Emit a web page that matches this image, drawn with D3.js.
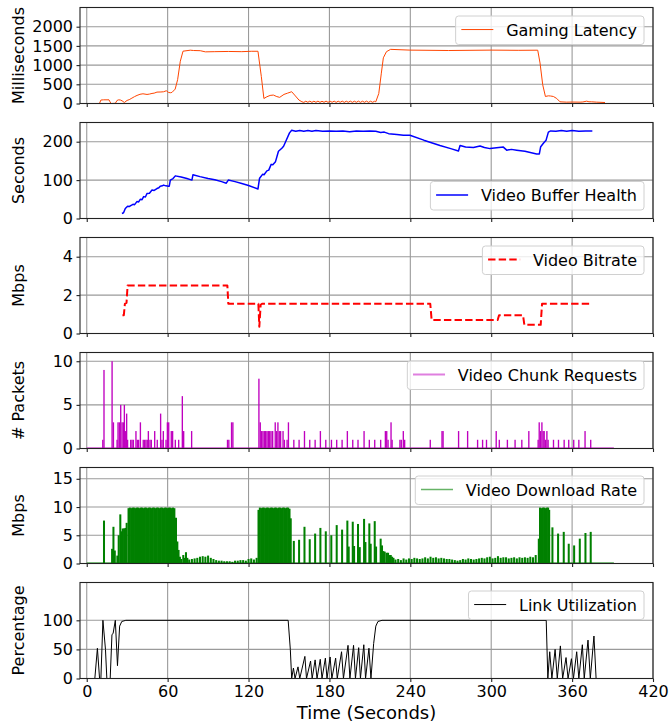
<!DOCTYPE html>
<html>
<head>
<meta charset="utf-8">
<script src="https://cdn.jsdelivr.net/npm/d3@7"></script>
<style>
  body { margin: 0; background: #fff; }
  svg { display: block; font-family: "DejaVu Sans", sans-serif; }
</style>
</head>
<body>
<svg id="chart"></svg>
<script>
// ---- data ----
const xTicks = [0, 60, 120, 180, 240, 300, 360, 420];

const latencyTicks = [0, 500, 1000, 1500, 2000];
const latencyTime = [8.8, 9.5, 10.5, 12.5, 16.5, 17, 18, 21.2, 22.5, 23.7, 25, 26.2, 27.9, 29.9, 31.5, 33.5, 35.5, 37.3, 39.5, 41.7,
  44.7, 46.5, 48.4, 50, 52.1, 55, 57, 59, 60.7, 62, 63.2, 65.6, 67.4, 69.4, 71.4, 76.8, 79.3, 84.2, 88, 95,
  105, 115, 122, 127, 129.5, 131.4, 133.6, 136, 138.4, 141, 143.1, 146.3, 149, 152, 154.2, 157.4, 159.6,
  161, 162.5, 164, 165.5, 167, 168.5, 170, 171.5, 173, 174.5, 176, 177.5, 179, 180.5, 182, 183.5, 185, 186.5,
  188, 189.5, 191, 192.5, 194, 195.5, 197, 198.5, 200, 201.5, 203, 204.5, 206, 207.5, 209, 210.5, 212, 213.5,
  214.4, 216.6, 218.5, 220, 222.3, 225.4, 239.7, 268.2, 299.9, 320, 334.5, 336.2, 338.2, 340.2, 342.4, 344,
  346.1, 348.6, 351, 356, 360, 365.9, 368, 370.8, 372.5, 374.5, 378.2, 384.4];
const latencyMs = [0, 5, 90, 96, 96, 60, 0, 5, 80, 96, 90, 70, 26, 80, 100, 140, 180, 210, 240, 253,
  236, 245, 262, 270, 297, 300, 306, 332, 288, 280, 288, 375, 620, 1100, 1362, 1388, 1380, 1375, 1345, 1350,
  1355, 1350, 1360, 1360, 700, 130, 175, 210, 220, 180, 160, 237, 270, 307, 220, 90, 45,
  30, 60, 32, 62, 30, 60, 32, 62, 30, 58, 32, 62, 30, 60, 32, 62, 30, 60,
  32, 62, 30, 60, 32, 62, 30, 60, 32, 62, 30, 60, 32, 62, 30, 60, 32, 58,
  45, 260, 790, 1190, 1350, 1410, 1390, 1380, 1390, 1385, 1388, 1056, 489, 183, 200, 195,
  183, 131, 44, 35, 38, 35, 40, 61, 45, 44, 35, 26];

const bufferTicks = [0, 100, 200];
const bufferTime = [26.1, 27.3, 28.6, 30.3, 31.5, 32.3, 34.3, 35.5, 37.2, 38.5, 39.7, 41, 42.2, 43.5, 44.7, 46.5, 48.4, 50, 52.1, 53.5,
  54.5, 56, 57, 58.7, 60.7, 61.2, 62, 63, 64, 65.7, 70, 74.3, 78, 78.8, 84, 90, 95, 100, 103.5, 105,
  110, 115, 120, 127, 128.2, 130.4, 131.5, 133.6, 135, 136.8, 138, 140, 142.2, 144.7, 146, 147.9, 150.4, 152,
  155, 158, 161, 164, 167, 170, 175, 180, 185, 190, 195, 200, 205, 210, 214.4, 218, 220.7, 223.9, 230, 234.9,
  239.7, 250, 262, 270, 275.7, 276.9, 281, 286.8, 291.7, 295, 299.1, 304, 309, 311.5, 315, 318.9, 325, 333.7,
  335.7, 336.7, 338.7, 340.7, 342.4, 344.1, 348, 352, 356, 360, 365, 370, 375];
const bufferSec = [13, 15, 26, 32, 31, 33, 37, 36, 44, 43, 50, 49, 57, 56, 65, 66, 74, 73, 78, 80,
  84, 85, 87, 85, 84, 84, 100, 102, 104, 111, 108, 104, 100, 114, 109, 104, 101, 96, 92, 100,
  96, 91, 86, 77, 105, 115, 114, 124, 126, 141, 140, 148, 175, 183, 188, 203, 223, 230,
  227, 229, 227, 229, 227, 229, 227, 228, 227, 228, 226, 228, 227, 228, 227, 224, 225, 221, 219, 217,
  217, 204, 190, 182, 176, 190, 186, 185, 189, 185, 182, 184, 186, 178, 180, 178, 175, 168,
  168, 187, 196, 204, 225, 228, 227, 229, 227, 229, 227, 228, 228];

const bitrateTicks = [0, 2, 4];
const bitrateTime = [26.5, 27.5, 28.3, 29.5, 30.3, 104.3, 105, 127.3, 128, 129, 130, 254.8, 255.8, 304.8, 305.8, 323.6, 324.6, 336.7, 337.7, 375];
const bitrateMbps = [0.95, 0.95, 1.55, 1.6, 2.5, 2.5, 1.55, 1.55, 0.35, 1.5, 1.55, 1.55, 0.7, 0.7, 0.95, 0.95, 0.45, 0.45, 1.55, 1.55];

const chunkTicks = [0, 5, 10];
const chunkTime = [11.9, 12.8, 18.8, 19.8, 22.5, 23.2, 24.2, 25.2, 26.2, 27.2, 27.9, 28.6, 29.6, 30.3, 32.6, 33.6, 34.6, 36.5, 37.5, 38.5,
  39.8, 41.9, 42.9, 43.9, 44.9, 45.7, 46.9, 47.9, 50.4, 52.3, 54.8, 55.8, 56.8, 58.8, 59.8, 60.8, 62.7, 63.7, 65.7, 68.2,
  70.9, 71.9, 77.8, 104.4, 105.4, 107.4, 108.4, 127.7, 128.7, 129.7, 130.7, 131.7, 132.7, 133.7, 134.7, 135.7, 136.7, 137.9, 139.8, 140.8,
  141.8, 142.8, 143.8, 145.6, 146.6, 148.6, 149.6, 153.6, 157.5, 161.5, 165.4, 169.4, 173.3, 177.3, 181.5, 185.4, 189.4, 193.3, 197.3, 201.2,
  205.7, 209.6, 213.6, 218, 221.5, 222.5, 223.5, 225.7, 226.5, 232.3, 233.3, 234.8, 235.8, 254.8, 263.5, 264.3, 275.8, 282.5, 289.9, 293.6,
  296.5, 303.7, 306, 312, 317.7, 322.7, 327.9, 334.8, 335.6, 336.6, 337.6, 338.5, 339.3, 340.3, 341.3, 342.2, 346.2, 349.9, 354.1, 357.5,
  361.2, 365, 369.6, 373.8];
const chunkCount = [1, 9, 10, 3, 1, 3, 3, 5, 3, 3, 5, 2, 4, 1, 1, 1, 1, 2, 1, 1,
  3, 1, 1, 1, 1, 2, 1, 1, 2, 1, 4, 1, 2, 1, 3, 3, 2, 2, 1, 1,
  6, 2, 2, 1, 1, 3, 3, 8, 3, 2, 2, 2, 2, 2, 2, 2, 2, 2, 3, 2,
  3, 2, 2, 2, 1, 1, 3, 1, 1, 2, 1, 1, 2, 1, 1, 1, 1, 2, 1, 1,
  2, 1, 1, 1, 2, 2, 1, 3, 1, 1, 1, 2, 1, 1, 2, 2, 2, 2, 1, 1,
  1, 2, 1, 1, 1, 1, 2, 1, 3, 2, 3, 2, 2, 1, 2, 1, 1, 1, 1, 1,
  1, 1, 2, 1];

const downloadTicks = [0, 5, 10, 15];
const downloadTime = [12.8, 18.8, 19.8, 20.8, 22.7, 23.7, 24.9, 25.7, 26.7, 27.7, 28.7, 29.6,
  31, 32, 33, 34, 35, 36, 37, 38, 39, 40, 41, 42, 43, 44, 45, 46, 47, 48, 49, 50,
  51, 52, 53, 54, 55, 56, 57, 58, 59, 60, 61, 62, 63, 64, 65,
  66.2, 67.2, 68.1, 69.1, 70.1, 71.6, 72.6, 73.6, 74.6,
  76, 78, 80, 82, 84, 86, 88, 90, 92, 94, 96, 98, 100, 102, 104, 106, 108, 110, 112, 114, 116, 118, 120, 122, 124, 126,
  127.4, 128.4, 129.4, 130.4, 131.4, 132.4, 133.4, 134.4, 135.4, 136.4, 137.4, 138.4, 139.4, 140.4, 141.4, 142.4,
  143.4, 144.4, 145.4, 146.4, 147.4, 148.4, 149.4, 150.4, 151.3,
  153.6, 157.5, 161.5, 165.4, 169.4, 173.3, 177.3, 181.4, 185.4, 189.4, 193.3, 194.3, 197.3, 198.3, 201.2, 202.5,
  205.7, 206.7, 209.6, 210.6, 213.6, 214.6,
  218, 219, 220, 221, 222.5, 223.5, 224.5, 225.5, 226.5, 227.5,
  229, 231, 233, 235, 237, 239, 241, 243, 245, 247, 249, 251, 253, 255, 257, 259, 261, 263, 265, 267,
  269, 271, 273, 275, 277, 279, 281, 283, 285, 287, 289, 291, 293, 295, 297, 299, 301, 303, 305, 307,
  309, 311, 313, 315, 317, 319, 321, 323, 325, 327, 329, 331, 333,
  335.3, 336.2, 337.2, 338.2, 339.2, 340.2, 341.2, 342.2, 343, 345.4, 349.6, 353.8, 357.5, 361.5, 365.7, 369.9, 373.8];
const downloadMbps = [7.6, 2.6, 6.5, 2.3, 1.4, 5.0, 8.7, 5.7, 6.2, 6.2, 6.3, 7.2,
  9.8, 9.9, 9.8, 9.9, 9.9, 9.8, 9.9, 9.9, 9.8, 9.9, 9.9, 9.8, 9.9, 9.9, 9.8, 9.9, 9.9, 9.8, 9.9, 9.9,
  9.8, 9.9, 9.9, 9.8, 9.9, 9.9, 9.8, 9.9, 9.9, 9.8, 9.9, 9.9, 9.8, 9.9, 9.8,
  8.1, 3.9, 2.4, 1.2, 0.8, 1.5, 1.0, 2.0, 1.0,
  0.7, 0.8, 0.9, 1.0, 1.2, 1.3, 1.2, 1.4, 1.0, 0.8, 0.6, 0.5, 0.5, 0.4, 0.4, 0.4, 0.3, 0.5, 0.5, 0.6, 0.6, 0.5, 0.8, 0.9, 0.7, 1.0,
  9.5, 9.9, 9.8, 9.9, 9.9, 9.8, 9.9, 9.9, 9.8, 9.9, 9.9, 9.8, 9.9, 9.9, 9.8, 9.9,
  9.9, 9.8, 9.9, 9.9, 9.8, 9.9, 9.9, 9.7, 8.0,
  4.0, 4.2, 6.5, 4.3, 5.3, 6.3, 5.7, 5.0, 6.8, 6.0, 7.6, 3.0, 7.4, 3.1, 7.0, 2.9,
  7.9, 3.8, 7.1, 3.5, 7.5, 3.0,
  4.4, 3.2, 2.2, 2.1, 1.9, 1.9, 1.5, 1.5, 1.2, 1.0,
  0.7, 0.8, 0.6, 0.9, 0.7, 0.9, 0.8, 1.0, 0.9, 0.8, 0.9, 1.1, 0.9, 1.2, 1.0, 1.1, 0.9, 1.0, 0.9, 0.8,
  0.8, 0.7, 0.6, 0.5, 0.6, 0.8, 0.7, 0.9, 0.8, 0.7, 0.8, 0.9, 1.0, 0.9, 1.1, 1.2, 0.9, 1.0, 1.3, 1.0,
  1.1, 1.1, 0.9, 1.0, 1.1, 0.9, 1.1, 1.0, 1.1, 1.0, 1.2, 1.1, 1.5,
  4.4, 9.9, 9.8, 9.9, 9.9, 9.8, 9.9, 9.9, 9.5, 6.4, 5.3, 5.6, 3.5, 3.2, 4.4, 5.4, 5.6];

const linkTicks = [0, 50, 100];
const linkTime = [0, 6, 7.9, 9.5, 10.5, 12, 13.9, 14.9, 17.4, 18.7, 19.6, 21.2, 22.8, 24.4, 26, 29, 149.4, 151, 152, 153.3,
  154.5, 156.7, 158, 161.8, 163, 166, 167.2, 169.4, 170.8, 173.2, 174.5, 177, 178.2, 180.5, 181.8, 184.6, 185.8, 189, 190.4, 193.8,
  195.2, 197.9, 199.3, 201.7, 203, 205.5, 206.8, 209.3, 210.8, 212.8, 214.4, 216, 219, 340.8, 342, 343.4, 345, 347.4, 349, 351.3,
  353, 355.5, 357, 359.5, 361, 363.4, 365, 367.6, 369, 371.8, 373.5, 376.2, 377.8, 386.9];
const linkPct = [0, 0, 52, 0, 0, 100, 50, 0, 0, 75, 78, 100, 22, 90, 98, 100, 100, 50, 0, 18,
  0, 20, 0, 38, 0, 30, 0, 32, 0, 33, 0, 35, 0, 37, 0, 35, 0, 46, 0, 57,
  0, 57, 0, 53, 0, 58, 0, 52, 0, 60, 90, 98, 100, 100, 0, 46, 0, 50, 0, 56,
  0, 36, 0, 34, 0, 46, 0, 58, 0, 66, 0, 73, 0, 0];

// ---- layout ----
const width = 669, height = 726;
const left = 80, right = 653;
const firstTop = 7.5, panelH = 96, panelStep = 115;

const panels = [
  { ylabel: 'Milliseconds', legend: 'Gaming Latency', yMax: 2500, ticks: latencyTicks, kind: 'line',
    t: latencyTime, v: latencyMs, color: '#ff4500', lw: 1, loc: 'upper' },
  { ylabel: 'Seconds', legend: 'Video Buffer Health', yMax: 250, ticks: bufferTicks, kind: 'line',
    t: bufferTime, v: bufferSec, color: '#0000ff', lw: 1.5, loc: 'lower' },
  { ylabel: 'Mbps', legend: 'Video Bitrate', yMax: 5, ticks: bitrateTicks, kind: 'line',
    t: bitrateTime, v: bitrateMbps, color: '#ff0000', lw: 2, dash: '7.4,3.2', loc: 'upper' },
  { ylabel: '# Packets', legend: 'Video Chunk Requests', yMax: 11, ticks: chunkTicks, kind: 'bar',
    t: chunkTime, v: chunkCount, color: '#bf00bf', barW: 1.0, base: [0, 391], lw: 2, legendAlpha: 0.5, loc: 'upper' },
  { ylabel: 'Mbps', legend: 'Video Download Rate', yMax: 17, ticks: downloadTicks, kind: 'bar',
    t: downloadTime, v: downloadMbps, color: '#008000', barW: 1.5, base: [0, 391], lw: 1.5, legendAlpha: 0.6, loc: 'upper' },
  { ylabel: 'Percentage', legend: 'Link Utilization', yMax: 165, ticks: linkTicks, kind: 'line',
    t: linkTime, v: linkPct, color: '#000000', lw: 1, loc: 'upper' }
];

const x = d3.scaleLinear().domain([-5, 420]).range([left, right]);

const svg = d3.select('#chart')
  .attr('width', width)
  .attr('height', height);

panels.forEach((p, i) => {
  const top = firstTop + i * panelStep;
  const bottom = top + panelH;
  const y = d3.scaleLinear().domain([0, p.yMax]).range([bottom, top]);
  const g = svg.append('g');

  g.append('clipPath').attr('id', 'clip' + i)
    .append('rect')
    .attr('x', left).attr('y', top)
    .attr('width', right - left).attr('height', panelH);

  // grid
  g.append('g').selectAll('line').data(xTicks).join('line')
    .attr('x1', d => x(d)).attr('x2', d => x(d))
    .attr('y1', top).attr('y2', bottom)
    .attr('stroke', '#9a9a9a').attr('stroke-width', 1.1);
  g.append('g').selectAll('line').data(p.ticks).join('line')
    .attr('x1', left).attr('x2', right)
    .attr('y1', d => y(d)).attr('y2', d => y(d))
    .attr('stroke', '#9a9a9a').attr('stroke-width', 1.1);

  const plot = g.append('g').attr('clip-path', `url(#clip${i})`);
  const pts = p.t.map((t, k) => [t, p.v[k]]);

  if (p.kind === 'line') {
    const line = d3.line().x(d => x(d[0])).y(d => y(d[1]));
    plot.append('path')
      .attr('d', line(pts))
      .attr('fill', 'none')
      .attr('stroke', p.color)
      .attr('stroke-width', p.lw)
      .attr('stroke-linejoin', 'round')
      .attr('stroke-dasharray', p.dash || null);
  } else {
    plot.append('line')
      .attr('x1', x(p.base[0])).attr('x2', x(p.base[1]))
      .attr('y1', y(0)).attr('y2', y(0))
      .attr('stroke', p.color).attr('stroke-width', 2);
    plot.selectAll('rect.bar').data(pts).join('rect')
      .attr('class', 'bar')
      .attr('x', d => x(d[0] - p.barW / 2))
      .attr('width', x(p.barW) - x(0))
      .attr('y', d => y(d[1]))
      .attr('height', d => y(0) - y(d[1]))
      .attr('fill', p.color);
  }

  // spines
  g.append('rect')
    .attr('x', left).attr('y', top)
    .attr('width', right - left).attr('height', panelH)
    .attr('fill', 'none').attr('stroke', '#222').attr('stroke-width', 1.1);

  // axes
  const yAxis = g.append('g')
    .attr('transform', `translate(${left},0)`)
    .call(d3.axisLeft(y).tickValues(p.ticks).tickSize(3.5).tickPadding(3.5)
      .tickFormat(d3.format('d')));
  const xAxis = g.append('g')
    .attr('transform', `translate(0,${bottom})`)
    .call(d3.axisBottom(x).tickValues(xTicks).tickSize(3.5).tickPadding(3.5)
      .tickFormat(i === panels.length - 1 ? d3.format('d') : () => ''));
  [yAxis, xAxis].forEach(a => {
    a.select('.domain').remove();
    a.attr('font-family', '"DejaVu Sans", sans-serif').attr('font-size', 16);
    a.selectAll('line').attr('stroke', '#222').attr('stroke-width', 1.1);
    a.selectAll('text').attr('fill', '#000');
  });

  // y label
  g.append('text')
    .attr('transform', `translate(24,${(top + bottom) / 2}) rotate(-90)`)
    .attr('text-anchor', 'middle')
    .style('font-size', '16px')
    .text(p.ylabel);

  // legend
  const lg = g.append('g');
  const boxH = 28.5;
  const boxR = right - 9;
  const boxTop = p.loc === 'lower' ? bottom - 8.5 - boxH : top + 8.5;
  const label = lg.append('text')
    .style('font-size', '16px')
    .text(p.legend);
  const tw = label.node().getComputedTextLength();
  const textX = boxR - 7 - tw;
  const lineX2 = textX - 12.8;
  const lineX1 = lineX2 - 32;
  const boxL = lineX1 - 5.7;
  label.attr('x', textX).attr('y', boxTop + boxH / 2 + 5.7);
  lg.insert('rect', 'text')
    .attr('x', boxL).attr('y', boxTop)
    .attr('width', boxR - boxL).attr('height', boxH)
    .attr('rx', 3)
    .attr('fill', '#fff').attr('fill-opacity', 0.8)
    .attr('stroke', '#d0d0d0').attr('stroke-width', 1);
  lg.append('line')
    .attr('x1', lineX1).attr('x2', lineX2)
    .attr('y1', boxTop + boxH / 2 - 0.7).attr('y2', boxTop + boxH / 2 - 0.7)
    .attr('stroke', p.color)
    .attr('stroke-opacity', p.legendAlpha || 1)
    .attr('stroke-width', p.lw)
    .attr('stroke-dasharray', p.dash || null);
});

// x label
svg.append('text')
  .attr('x', (left + right) / 2)
  .attr('y', 719)
  .attr('text-anchor', 'middle')
  .style('font-size', '18px')
  .text('Time (Seconds)');
</script>
</body>
</html>
